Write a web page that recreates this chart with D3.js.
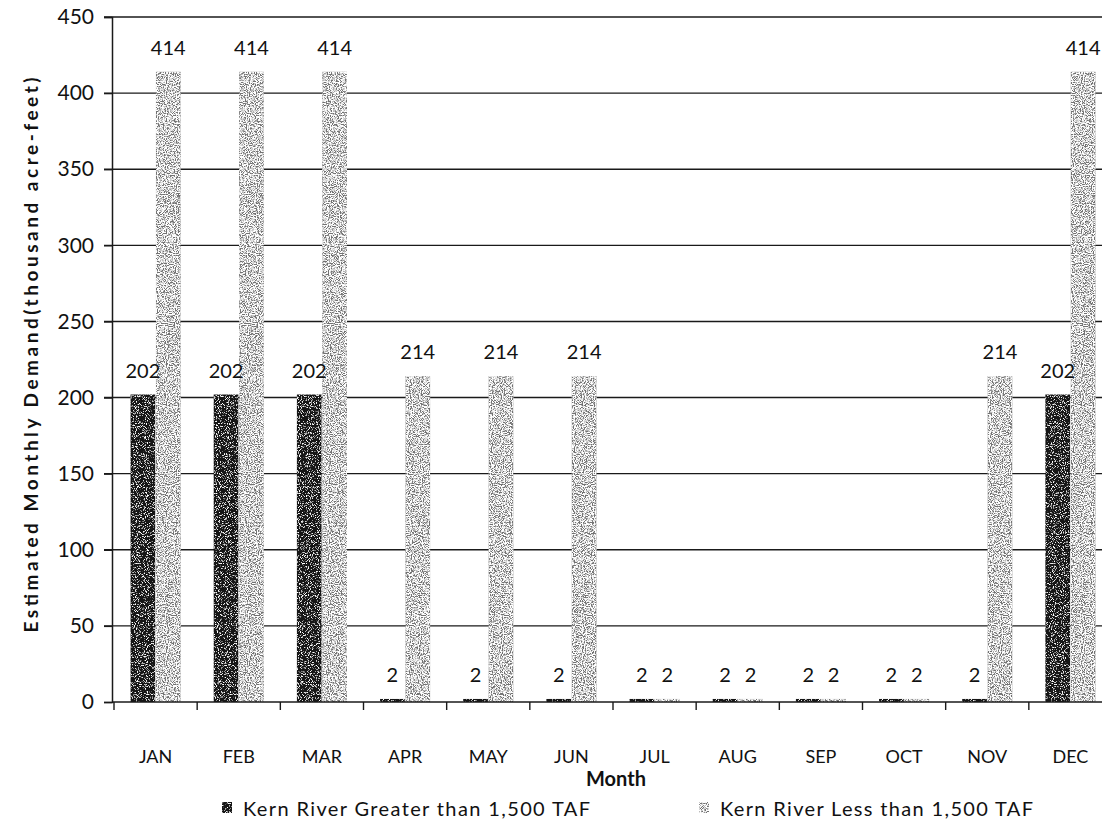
<!DOCTYPE html>
<html>
<head>
<meta charset="utf-8">
<script src="https://cdn.jsdelivr.net/npm/d3@7"></script>
<style>
  html, body { margin: 0; padding: 0; background: #ffffff; }
  svg { display: block; font-family: Lato, "Open Sans", sans-serif; }
</style>
</head>
<body>
<svg id="chart" width="1102" height="827"></svg>
<script>
// Monthly demand by Kern River runoff condition (thousand acre-feet)
const months = ["JAN", "FEB", "MAR", "APR", "MAY", "JUN", "JUL", "AUG", "SEP", "OCT", "NOV", "DEC"];
const seriesNames = ["Kern River Greater than 1,500 TAF", "Kern River Less than 1,500 TAF"];
const greaterThan = [202, 202, 202, 2, 2, 2, 2, 2, 2, 2, 2, 202];
const lessThan = [414, 414, 414, 214, 214, 214, 2, 2, 2, 2, 214, 414];
const yTicks = [0, 50, 100, 150, 200, 250, 300, 350, 400, 450];

const svg = d3.select("#chart");
const colors = ["#141414", "#727272"];
const ink = "#111";

// speckled print texture for the bars: white grain laid over the fill
const defs = svg.append("defs");
function speckFilter(id, seed, gain, offset) {
  const f = defs.append("filter").attr("id", id)
    .attr("x", 0).attr("y", 0).attr("width", 1).attr("height", 1);
  f.append("feTurbulence").attr("type", "fractalNoise").attr("baseFrequency", 0.9)
    .attr("numOctaves", 2).attr("seed", seed).attr("result", "noise");
  f.append("feColorMatrix").attr("in", "noise").attr("type", "matrix")
    .attr("values", `0 0 0 0 1  0 0 0 0 1  0 0 0 0 1  ${gain} 0 0 0 ${offset}`).attr("result", "white");
  f.append("feComposite").attr("in", "white").attr("in2", "SourceGraphic").attr("operator", "in").attr("result", "specks");
  const fm = f.append("feMerge");
  fm.append("feMergeNode").attr("in", "SourceGraphic");
  fm.append("feMergeNode").attr("in", "specks");
}
speckFilter("speckDark", 7, 6, -3.3);
speckFilter("speckLight", 11, 5, -1.9);
const filters = ["url(#speckDark)", "url(#speckLight)"];

const x = d3.scaleBand().domain(months).range([114, 1112]).paddingInner(0.38).paddingOuter(0.19);
const x1 = d3.scaleBand().domain([0, 1]).range([0, x.bandwidth()]).padding(0.03);
const y = d3.scaleLinear().domain([0, 450]).range([702, 17]);

const rows = months.map((m, i) => ({ month: m, values: [greaterThan[i], lessThan[i]] }));

// gridlines, including the top border at 450
svg.append("g").selectAll("line").data(yTicks.filter(v => v > 0)).join("line")
  .attr("x1", 104).attr("x2", 1102)
  .attr("y1", d => y(d)).attr("y2", d => y(d))
  .attr("stroke", "#1a1a1a").attr("stroke-width", 1.4);

// y axis
const yAxis = d3.axisLeft(y).tickValues(yTicks).tickSize(8).tickPadding(10);
const gy = svg.append("g").attr("transform", "translate(112,0)").call(yAxis);
gy.select(".domain").attr("stroke", "#1a1a1a").attr("stroke-width", 1.5);
gy.selectAll(".tick line").attr("stroke", "#1a1a1a").attr("stroke-width", 1.4);
gy.selectAll(".tick text").attr("font-size", 21).attr("fill", ink).attr("font-family", "Lato, sans-serif");

// bars
const groups = svg.append("g").selectAll("g").data(rows).join("g")
  .attr("transform", d => `translate(${x(d.month)},0)`);
groups.selectAll("rect").data(d => d.values.map((v, k) => ({ v, k }))).join("rect")
  .attr("x", d => x1(d.k))
  .attr("y", d => y(d.v))
  .attr("width", x1.bandwidth())
  .attr("height", d => y(0) - y(d.v))
  .attr("fill", d => colors[d.k])
  .attr("filter", d => filters[d.k]);

// value labels
groups.selectAll("text").data(d => d.values.map((v, k) => ({ v, k }))).join("text")
  .attr("x", d => x1(d.k) + x1.bandwidth() / 2)
  .attr("y", d => y(d.v) - 17)
  .attr("text-anchor", "middle")
  .attr("font-size", 20)
  .attr("fill", ink)
  .text(d => d.v);

// x axis
const xLine = svg.append("g");
xLine.append("line").attr("x1", 112).attr("x2", 1102).attr("y1", y(0)).attr("y2", y(0))
  .attr("stroke", "#1a1a1a").attr("stroke-width", 1.5);
const step = x.step();
xLine.selectAll(".xt").data(months).join("line").attr("class", "xt")
  .attr("x1", d => x(d) - step * x.paddingInner() / 2)
  .attr("x2", d => x(d) - step * x.paddingInner() / 2)
  .attr("y1", y(0)).attr("y2", y(0) + 8)
  .attr("stroke", "#1a1a1a").attr("stroke-width", 1.4);
xLine.selectAll(".xl").data(months).join("text").attr("class", "xl")
  .attr("x", d => x(d) + x.bandwidth() / 2)
  .attr("y", 763)
  .attr("text-anchor", "middle")
  .attr("font-size", 18)
  .attr("fill", ink)
  .text(d => d);

// axis titles
svg.append("text").attr("x", 616).attr("y", 786).attr("text-anchor", "middle")
  .attr("font-size", 20).attr("font-weight", "bold").attr("fill", ink).text("Month");
svg.append("text")
  .attr("transform", "translate(38,355) rotate(-90)")
  .attr("text-anchor", "middle")
  .attr("font-size", 19).attr("font-weight", "bold").attr("fill", ink)
  .attr("textLength", 555).attr("lengthAdjust", "spacing")
  .text("Estimated Monthly Demand(thousand acre-feet)");

// legend
const legendX = [222, 699];
const legendLen = [347, 313];
const lg = svg.append("g").selectAll("g").data(seriesNames).join("g")
  .attr("transform", (d, i) => `translate(${legendX[i]},809)`);
lg.append("rect").attr("x", 0).attr("y", -7).attr("width", 10).attr("height", 11)
  .attr("fill", (d, i) => colors[i]).attr("filter", (d, i) => filters[i]);
lg.append("text").attr("x", 21).attr("y", 7).attr("font-size", 20).attr("fill", ink)
  .attr("textLength", (d, i) => legendLen[i]).attr("lengthAdjust", "spacing")
  .text(d => d);
</script>
</body>
</html>
